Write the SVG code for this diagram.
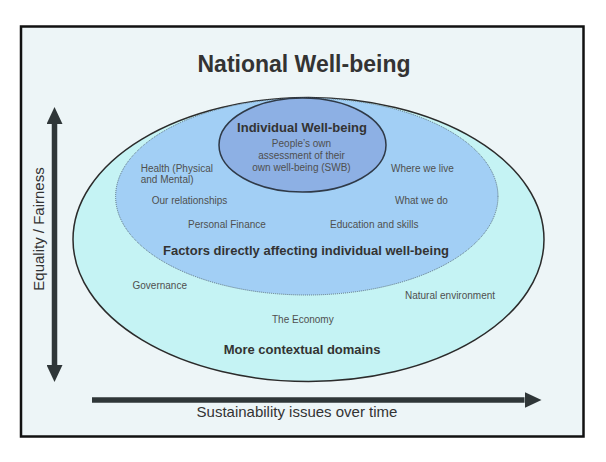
<svg xmlns="http://www.w3.org/2000/svg" width="606" height="462" viewBox="0 0 606 462">
  <defs>
    <marker id="head" markerUnits="userSpaceOnUse" markerWidth="17" markerHeight="16" refX="0" refY="8" orient="auto-start-reverse" viewBox="0 0 17 16">
      <path d="M0,0 L17,8 L0,16 Z" fill="#2f3638"/>
    </marker>
    <style>
      text { font-family: "Liberation Sans", Arial, sans-serif; }
      .title { font-size: 23px; font-weight: bold; fill: #333; text-anchor: middle; }
      .head { font-size: 13px; font-weight: bold; fill: #333; text-anchor: middle; }
      .small { font-size: 10px; fill: #4f4f4f; }
      .mid { text-anchor: middle; }
      .axis { font-size: 15px; fill: #333; text-anchor: middle; }
      .arrow { stroke: #2f3638; stroke-width: 5.5; fill: none; }
    </style>
  </defs>

  <rect width="606" height="462" fill="#ffffff"/>

  <g id="frame">
    <rect x="21" y="26.5" width="562.5" height="410" fill="#edf5f7" stroke="#111" stroke-width="2.5"/>
  </g>

  <g id="title">
    <text class="title" x="304" y="71.5">National Well-being</text>
  </g>

  <g id="contextual-domains">
    <ellipse cx="308.5" cy="239.5" rx="235.5" ry="142" fill="#c5f3f4" stroke="#2b2b2b" stroke-width="1.5"/>
    <text class="small" x="132.5" y="289">Governance</text>
    <text class="small" x="405" y="298.5">Natural environment</text>
    <text class="small" x="272" y="322.5">The Economy</text>
    <text class="head" x="302" y="353.5">More contextual domains</text>
  </g>

  <g id="direct-factors">
    <ellipse cx="306.8" cy="196.5" rx="191.2" ry="98.5" fill="#a2cff5" stroke="#5a6f80" stroke-width="1" stroke-dasharray="1 1"/>
    <text class="small" x="140.7" y="171.5">Health (Physical</text>
    <text class="small" x="140.7" y="183">and Mental)</text>
    <text class="small" x="151.7" y="204">Our relationships</text>
    <text class="small" x="188" y="228">Personal Finance</text>
    <text class="small" x="391" y="171.5">Where we live</text>
    <text class="small" x="395" y="204">What we do</text>
    <text class="small" x="330" y="228">Education and skills</text>
    <text class="head" x="306" y="255">Factors directly affecting individual well-being</text>
  </g>

  <g id="individual-wellbeing">
    <ellipse cx="302.5" cy="145" rx="83.5" ry="47" fill="#8db0e4" stroke="#2f3a48" stroke-width="1.5"/>
    <text class="head" x="302" y="132">Individual Well-being</text>
    <text class="small mid" x="301.5" y="146.5">People’s own</text>
    <text class="small mid" x="301.5" y="158.8">assessment of their</text>
    <text class="small mid" x="301.5" y="171">own well-being (SWB)</text>
  </g>

  <g id="connectors">
    <line class="arrow" x1="54.5" y1="124" x2="54.5" y2="365" marker-start="url(#head)" marker-end="url(#head)"/>
    <line class="arrow" x1="92" y1="400" x2="524.5" y2="400" marker-end="url(#head)"/>
  </g>

  <g id="axis-labels">
    <text class="axis" transform="translate(43.5,229) rotate(-90)" x="0" y="0">Equality / Fairness</text>
    <text class="axis" x="297" y="416.5">Sustainability issues over time</text>
  </g>
</svg>
